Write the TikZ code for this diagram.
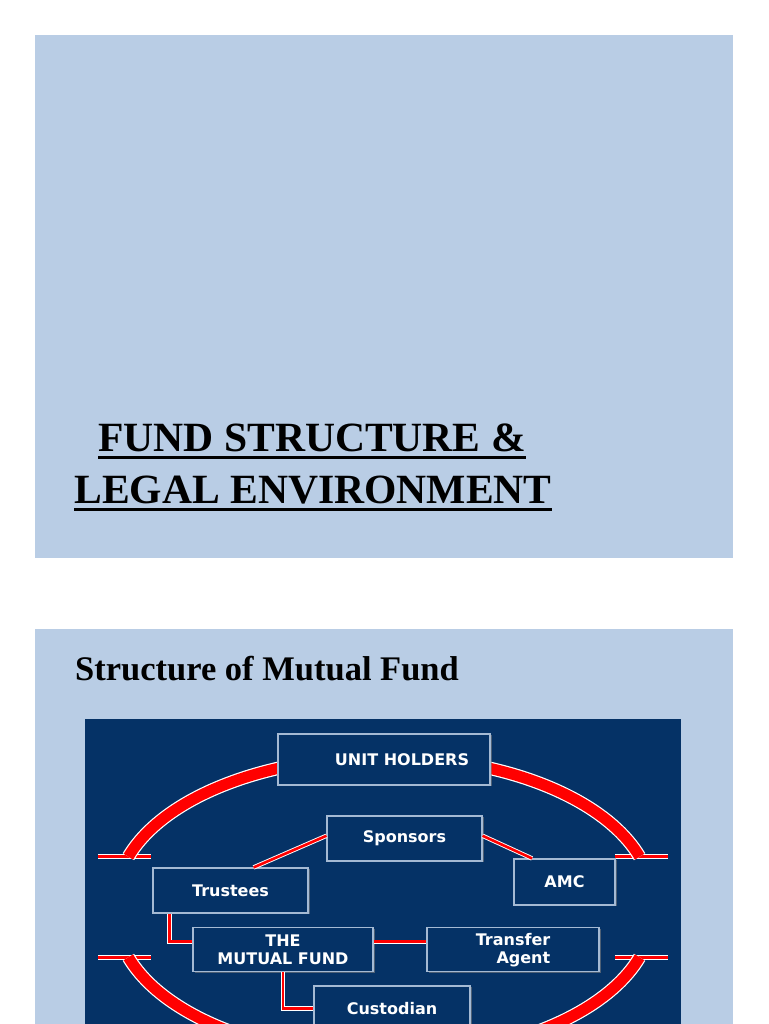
\documentclass[tikz,border=0pt]{standalone}
\usepackage{fontspec}
\setmainfont{Liberation Serif}
\newfontfamily\boxfont{DejaVu Sans}
\usetikzlibrary{shadows}
\definecolor{panelblue}{RGB}{185,205,229}
\definecolor{navy}{RGB}{5,50,102}
\definecolor{boxline}{RGB}{165,186,212}
\definecolor{linkred}{RGB}{255,0,0}
\tikzset{
  unitbox/.style={draw=boxline, line width=1.1pt, fill=navy, text=white, align=center, inner sep=0pt,
    font=\boxfont\bfseries\fontsize{16}{18}\selectfont,
    drop shadow={shadow xshift=1.5pt, shadow yshift=-1.5pt, opacity=0.6}},
  link/.style={draw=white, double=linkred, line width=0.9pt, double distance=2.6pt},
  ring/.style={draw=white, double=linkred, line width=1.2pt, double distance=11pt},
  tbar/.style={draw=white, double=linkred, line width=0.9pt, double distance=3pt},
  titletext/.style={anchor=base, inner sep=0pt, font=\bfseries\fontsize{41.6}{50}\selectfont}
}
\begin{document}
\begin{tikzpicture}[x=1pt,y=1pt]
\useasboundingbox (0,0) rectangle (768,1024);
\fill[white] (0,0) rectangle (768,1024);
\fill[panelblue] (35,466) rectangle (733,989);
\node (title1) [titletext] at (312,572.3) {FUND STRUCTURE \&};
\node (title2) [titletext] at (313,520.7) {LEGAL ENVIRONMENT};
\draw[line width=3pt] ([yshift=-6pt]title1.base west) -- ([yshift=-6pt]title1.base east);
\draw[line width=3pt] ([yshift=-6pt]title2.base west) -- ([yshift=-6pt]title2.base east);
\fill[panelblue] (35,0) rectangle (733,395);
\node (heading) [anchor=base west, inner sep=0pt, font=\bfseries\fontsize{34.5}{40}\selectfont] at (75,343.3) {Structure of Mutual Fund};
\fill[navy] (85,0) rectangle (681,305);
\draw[tbar] (98,167.3) -- (151,167.3);
\draw[tbar] (615,167.3) -- (668,167.3);
\draw[tbar] (98,66.7) -- (151,66.7);
\draw[tbar] (615,66.7) -- (668,66.7);
\coordinate (ringtop) at (128.4,167.3);
\coordinate (ringbottom) at (128.4,66.7);
\draw[ring] (ringtop) arc[start angle=162.5, end angle=17.5, x radius=268, y radius=143];
\draw[ring] (ringbottom) arc[start angle=197.5, end angle=342.5, x radius=268, y radius=143];
\node (holders) [unitbox, minimum width=212, minimum height=51] at (384,264.5) {\hspace*{36pt}UNIT HOLDERS};
\node (sponsors) [unitbox, minimum width=155, minimum height=45] at (404.5,185.5) {Sponsors};
\node (trustees) [unitbox, minimum width=155, minimum height=45] at (230.5,133.5) {Trustees};
\node (amc) [unitbox, minimum width=101, minimum height=46] at (564.5,142) {AMC};
\node (fund) [unitbox, minimum width=180, minimum height=44] at (283,74.2) {THE\\MUTUAL FUND};
\node (agent) [unitbox, minimum width=172, minimum height=44, align=right] at (513,74.2) {Transfer\\Agent};
\node (custodian) [unitbox, minimum width=156, minimum height=45] at (392,15.5) {Custodian};
\draw[link] (sponsors.178) -- (trustees.45);
\draw[link] (sponsors.2) -- (amc.144);
\draw[link] ([xshift=17pt]trustees.south west) |- ([yshift=8pt]fund.west);
\draw[link] ([yshift=8pt]fund.east) -- ([yshift=8pt]agent.west);
\draw[link] (fund.south) |- (custodian.west);
\end{tikzpicture}
\end{document}
